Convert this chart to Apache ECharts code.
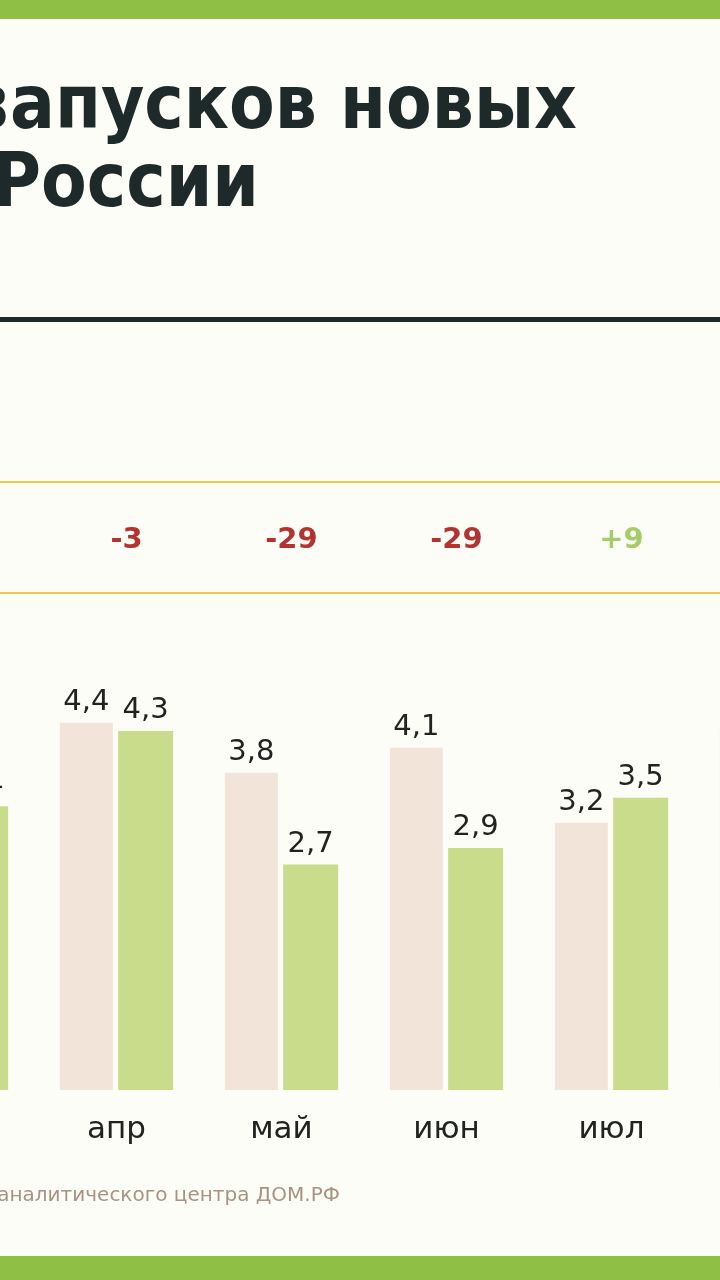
<!DOCTYPE html>
<html><head><meta charset="utf-8">
<script src="https://cdn.jsdelivr.net/npm/echarts@6/dist/echarts.min.js"></script>
<style>html,body{margin:0;padding:0;background:#fdfdf8;overflow:hidden;width:720px;height:1280px}#c{position:absolute;left:-131px;top:0;width:990px;height:1280px}</style>
</head><body><div id="c"></div>
<script>
const categories = ['мар','апр','май','июн','июл','авг'];
const prevYear = [3.9, 4.4, 3.8, 4.1, 3.2, 4.3];
const curYear = [3.4, 4.3, 2.7, 2.9, 3.5, 4.0];
const changes = ['-13', '-3', '-29', '-29', '+9', '-7'];
const fmt = v => v.toFixed(1).replace('.', ',');
const chart = echarts.init(document.getElementById('c'));
const ox = 131;
chart.setOption({
  backgroundColor: '#fdfdf8',
  animation: false,
  graphic: [
    {type:'rect', shape:{x:0,y:0,width:990,height:19}, style:{fill:'#8fbf45'}},
    {type:'rect', shape:{x:0,y:1256,width:990,height:24}, style:{fill:'#8fbf45'}},
    {type:'rect', shape:{x:0,y:317,width:990,height:5}, style:{fill:'#1e2a2a'}},
    {type:'rect', shape:{x:0,y:481,width:990,height:2}, style:{fill:'#f0c850'}},
    {type:'rect', shape:{x:0,y:592,width:990,height:2}, style:{fill:'#f0c850'}},
    {type:'text', x:ox+577, y:72, style:{text:'Динамика запусков новых', textAlign:'right', font:'bold 74px "DejaVu Sans Condensed"', fill:'#1e2a2a'}},
    {type:'text', x:ox+259, y:150, style:{text:'проектов в России', textAlign:'right', font:'bold 74px "DejaVu Sans Condensed"', fill:'#1e2a2a'}},
    {type:'text', x:ox+340, y:1186, style:{text:'Источник: данные аналитического центра ДОМ.РФ', textAlign:'right', font:'20px "DejaVu Sans"', fill:'#a89282'}}
  ],
  grid: [
    {left:0, right:0, top:640, bottom:190},
    {left:0, right:0, top:500, height:80}
  ],
  xAxis: [
    {type:'category', data:categories, gridIndex:0, axisLine:{show:false}, axisTick:{show:false},
     axisLabel:{fontSize:31, color:'#222', margin:24, fontFamily:'DejaVu Sans'}},
    {type:'category', data:categories, gridIndex:1, show:false}
  ],
  yAxis: [
    {type:'value', gridIndex:0, min:0, max:5.39, show:false},
    {type:'value', gridIndex:1, min:0, max:2, show:false}
  ],
  series: [
    {type:'bar', data:prevYear, barWidth:53, barGap:'10%', itemStyle:{color:'#f3e4da'},
     label:{show:true, position:'top', fontSize:29, color:'#222', fontFamily:'DejaVu Sans', formatter:p=>fmt(p.value), distance:6}},
    {type:'bar', data:curYear, barWidth:55, itemStyle:{color:'#c9dc8c'},
     label:{show:true, position:'top', fontSize:29, color:'#222', fontFamily:'DejaVu Sans', formatter:p=>fmt(p.value), distance:6}},
    {type:'scatter', xAxisIndex:1, yAxisIndex:1, symbolSize:0,
     data:changes.map(c=>({value:1, label:{color: c[0]==='+' ? '#8fbf45' : '#a00000'}})),
     label:{show:true, position:'inside', offset:[10,0], fontSize:29, fontWeight:'bold', fontFamily:'DejaVu Sans',
       formatter:p=>changes[p.dataIndex]},
     itemStyle:{color:'transparent'}}
  ]
});
</script></body></html>
